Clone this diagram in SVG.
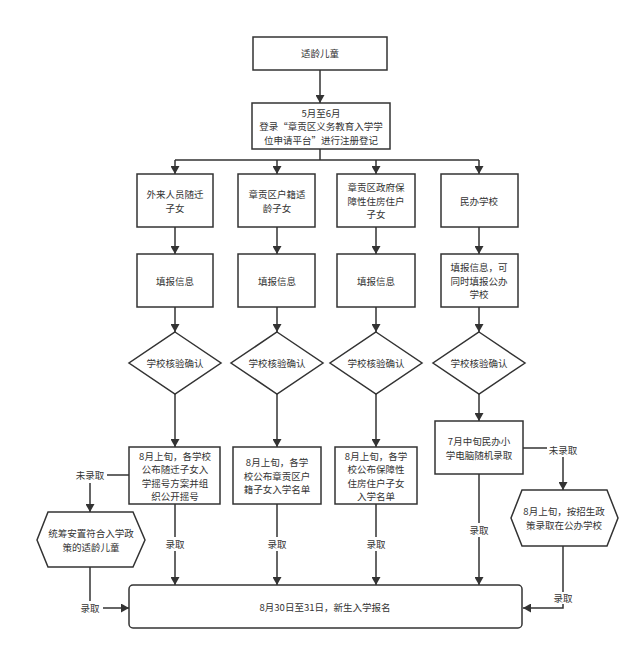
<svg xmlns="http://www.w3.org/2000/svg" width="641" height="654" viewBox="0 0 641 654">
<defs>
<marker id="ah" markerWidth="8" markerHeight="9" refX="8" refY="4.5" orient="auto" markerUnits="userSpaceOnUse">
<path d="M0,0 L8,4.5 L0,9 Z" fill="#333"/>
</marker>
<style>
.n{fill:#fff;stroke:#333;stroke-width:1.5}
.t{font-family:"Noto Sans CJK SC","Noto Sans",sans-serif;font-size:9.5px;fill:#333;text-anchor:middle;dominant-baseline:central}
.c{fill:none;stroke:#333;stroke-width:1.5}
.a{fill:none;stroke:#333;stroke-width:1.5;marker-end:url(#ah)}
</style>
</defs>
<rect width="641" height="654" fill="#fff"/>
<g id="connectors">
<path class="a" d="M320,70 V103"/>
<path class="c" d="M320,149 V160 M175,160 H479"/>
<path class="a" d="M175,160 V174"/>
<path class="a" d="M277,160 V174"/>
<path class="a" d="M376,160 V174"/>
<path class="a" d="M479,160 V174"/>
<path class="a" d="M175,227 V254"/>
<path class="a" d="M277,227 V254"/>
<path class="a" d="M376,227 V254"/>
<path class="a" d="M479,227 V254"/>
<path class="a" d="M175,307 V332"/>
<path class="a" d="M277,307 V332"/>
<path class="a" d="M376,307 V332"/>
<path class="a" d="M479,307 V332"/>
<path class="a" d="M175,394 V447"/>
<path class="a" d="M277,394 V447"/>
<path class="a" d="M376,394 V447"/>
<path class="a" d="M479,394 V421"/>
<path class="a" d="M175,504 V585"/>
<path class="a" d="M277,504 V585"/>
<path class="a" d="M376,504 V585"/>
<path class="a" d="M479,474 V585"/>
<path class="c" d="M129,475 H107"/>
<path class="a" d="M90,483 V512"/>
<path class="c" d="M90,567 V601"/>
<path class="a" d="M103,608 H129"/>
<path class="c" d="M523,448 H547"/>
<path class="a" d="M563,457 V490"/>
<path class="c" d="M563,546 V592"/>
<path class="a" d="M563,604 V608 H523"/>
<rect x="165" y="537" width="20" height="14" fill="#fff"/>
<rect x="267" y="537" width="20" height="14" fill="#fff"/>
<rect x="366" y="537" width="20" height="14" fill="#fff"/>
<rect x="469" y="523" width="20" height="14" fill="#fff"/>
<text class="t" x="175" y="544">录取</text>
<text class="t" x="277" y="544">录取</text>
<text class="t" x="376" y="544">录取</text>
<text class="t" x="479" y="530">录取</text>
<text class="t" x="90" y="475">未录取</text>
<text class="t" x="90" y="608">录取</text>
<text class="t" x="563" y="450">未录取</text>
<text class="t" x="563" y="598">录取</text>
</g>
<g id="n1"><rect class="n" x="253" y="37" width="134" height="33"/><text class="t" x="320" y="53">适龄儿童</text></g>
<g id="n2"><rect class="n" x="252" y="103" width="138" height="46"/>
<text class="t" x="321" y="112.5">5月至6月</text>
<text class="t" x="321" y="126">登录“章贡区义务教育入学学</text>
<text class="t" x="321" y="139.5">位申请平台”进行注册登记</text></g>
<g id="n3"><rect class="n" x="137" y="174" width="76" height="53"/>
<text class="t" x="175" y="194">外来人员随迁</text><text class="t" x="175" y="207.5">子女</text></g>
<g id="n4"><rect class="n" x="238" y="174" width="77" height="53"/>
<text class="t" x="277" y="194">章贡区户籍适</text><text class="t" x="277" y="207.5">龄子女</text></g>
<g id="n5"><rect class="n" x="337" y="174" width="78" height="53"/>
<text class="t" x="376" y="187">章贡区政府保</text><text class="t" x="376" y="200.5">障性住房住户</text><text class="t" x="376" y="214">子女</text></g>
<g id="n6"><rect class="n" x="441" y="174" width="77" height="53"/>
<text class="t" x="479" y="201">民办学校</text></g>
<g id="n7"><rect class="n" x="137" y="254" width="76" height="53"/><text class="t" x="175" y="281">填报信息</text></g>
<g id="n8"><rect class="n" x="238" y="254" width="77" height="53"/><text class="t" x="277" y="281">填报信息</text></g>
<g id="n9"><rect class="n" x="337" y="254" width="78" height="53"/><text class="t" x="376" y="281">填报信息</text></g>
<g id="n10"><rect class="n" x="441" y="254" width="77" height="53"/>
<text class="t" x="479" y="267">填报信息，可</text><text class="t" x="479" y="280.5">同时填报公办</text><text class="t" x="479" y="294">学校</text></g>
<g id="n11"><polygon class="n" points="175,332 221,363 175,394 129,363"/><text class="t" x="175" y="363">学校核验确认</text></g>
<g id="n12"><polygon class="n" points="277,332 323,363 277,394 231,363"/><text class="t" x="277" y="363">学校核验确认</text></g>
<g id="n13"><polygon class="n" points="376,332 422,363 376,394 330,363"/><text class="t" x="376" y="363">学校核验确认</text></g>
<g id="n14"><polygon class="n" points="479,332 525,363 479,394 433,363"/><text class="t" x="479" y="363">学校核验确认</text></g>
<g id="n15"><rect class="n" x="129" y="447" width="91" height="57"/>
<text class="t" x="175" y="455.5">8月上旬，各学校</text><text class="t" x="175" y="469">公布随迁子女入</text><text class="t" x="175" y="482.5">学摇号方案并组</text><text class="t" x="175" y="496">织公开摇号</text></g>
<g id="n16"><rect class="n" x="233" y="447" width="88" height="57"/>
<text class="t" x="277" y="462">8月上旬，各学</text><text class="t" x="277" y="475.5">校公布章贡区户</text><text class="t" x="277" y="489">籍子女入学名单</text></g>
<g id="n17"><rect class="n" x="335" y="447" width="82" height="57"/>
<text class="t" x="376" y="455.5">8月上旬，各学</text><text class="t" x="376" y="469">校公布保障性</text><text class="t" x="376" y="482.5">住房住户子女</text><text class="t" x="376" y="496">入学名单</text></g>
<g id="n18"><rect class="n" x="435" y="421" width="88" height="53"/>
<text class="t" x="479" y="441">7月中旬民办小</text><text class="t" x="479" y="454.5">学电脑随机录取</text></g>
<g id="n19"><polygon class="n" points="48,512 133,512 145,540 133,567 48,567 37,540"/>
<text class="t" x="91" y="533">统筹安置符合入学政</text><text class="t" x="91" y="546.5">策的适龄儿童</text></g>
<g id="n20"><polygon class="n" points="522,490 607,490 618,518 607,546 522,546 511,518"/>
<text class="t" x="564" y="511">8月上旬，按招生政</text><text class="t" x="564" y="524.5">策录取在公办学校</text></g>
<g id="n21"><rect class="n" x="129" y="585" width="393" height="43" rx="4"/>
<text class="t" x="325" y="607">8月30日至31日，新生入学报名</text></g>
</svg>
